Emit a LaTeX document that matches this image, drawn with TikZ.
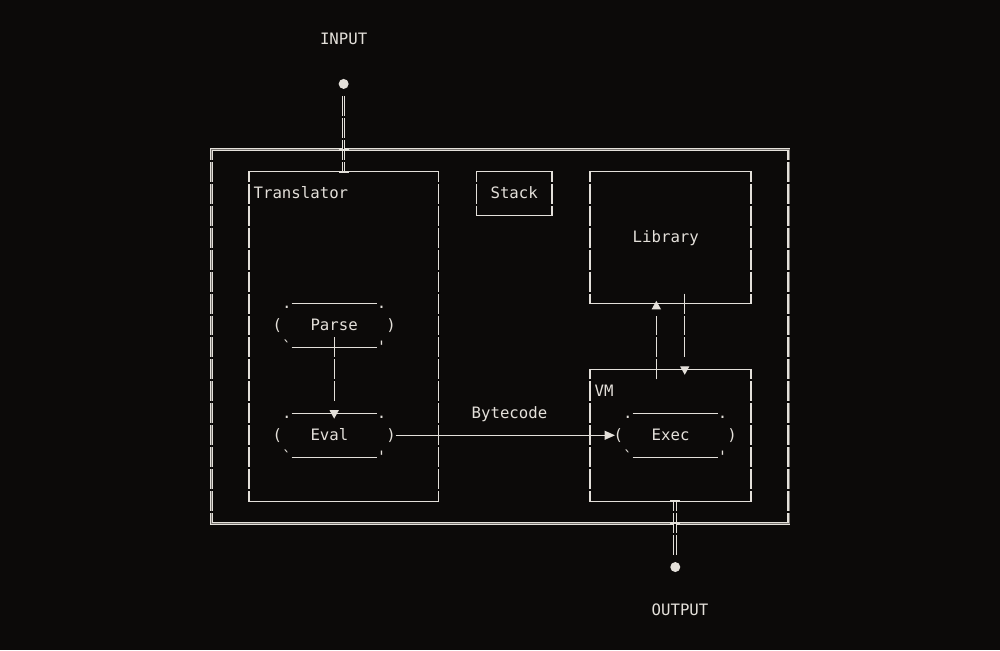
\documentclass[tikz,border=0pt]{standalone}
\usepackage{fontspec}
\setmonofont{DejaVu Sans Mono}
\usetikzlibrary{arrows.meta}
\definecolor{bg}{RGB}{12,10,9}
\definecolor{fg}{RGB}{228,224,218}
\definecolor{dim}{RGB}{120,116,112}
\tikzset{
  txt/.style={font=\ttfamily\fontsize{15.7}{18}\selectfont, text=fg, inner sep=0pt, outer sep=0pt, text height=10pt, text depth=0pt},
  frame/.style={inner sep=0pt, outer sep=0pt},
  boxsize/.style 2 args={minimum width=#1*9.475pt, minimum height=#2*21.96pt},
  sl/.style={draw=fg, line width=1.3pt},
  dl/.style={draw=fg, line width=1.2pt, double=dim, double distance=0.6pt},
  dblv/.style={draw=fg, line width=1pt, double=bg, double distance=1.6pt},
  rowdash/.style={dash pattern=on 19.96pt off 2pt},
  threedash/.style={dash pattern=on 19.96pt off 2pt on 19.96pt off 2pt on 19.96pt off 60pt},
  tri/.style={-{Triangle[width=9pt,length=8.5pt]}},
  dot/.style={circle, fill=fg, minimum size=10pt, inner sep=0pt, outer sep=0pt},
}
\newcommand\asciibox[2][sl]{%
  \draw[#1,line join=miter] ([yshift=-9.98pt]#2.north west) -- (#2.north west) -- (#2.north east) -- ([yshift=-9.98pt]#2.north east);
  \draw[#1,line join=miter] ([yshift=9.98pt]#2.south west) -- (#2.south west) -- (#2.south east) -- ([yshift=9.98pt]#2.south east);
  \draw[#1,rowdash] ([yshift=-11.98pt]#2.north west) -- ([yshift=11.98pt]#2.south west);
  \draw[#1,rowdash] ([yshift=-11.98pt]#2.north east) -- ([yshift=11.98pt]#2.south east);
}
\newcommand\capsule[1]{%
  \node[txt] (#1-lp) at (#1.west) {(};
  \node[txt] (#1-rp) at (#1.east) {)};
  \node[txt] (#1-tl) at ([xshift=9.475pt]#1.north west) {.};
  \node[txt] (#1-tr) at ([xshift=-9.475pt]#1.north east) {.};
  \node[txt] (#1-bl) at ([xshift=9.475pt]#1.south west) {`};
  \node[txt] (#1-br) at ([xshift=-9.475pt]#1.south east) {'};
  \draw[sl] ([xshift=14.2pt]#1.north west) -- ([xshift=-14.2pt]#1.north east);
  \draw[sl] ([xshift=14.2pt]#1.south west) -- ([xshift=-14.2pt]#1.south east);
}
\begin{document}
\begin{tikzpicture}[x=9.475pt,y=-21.96pt]
\fill[bg] (-22.2691,-1.8215) rectangle (83.2718,27.7778);
\useasboundingbox (-22.2691,-1.8215) rectangle (83.2718,27.7778);

% frames
\node[frame, boxsize={61}{17}] (outer) at (30.5,13.5) {};
\node[frame, boxsize={20}{15}] (trans) at (14,13.5) {};
\node[frame, txt, boxsize={8}{2}] (stack) at (32,7) {Stack};
\node[frame, txt, boxsize={17}{6}] (lib) at (48.5,9) {Library\hphantom{a}};
\node[frame, boxsize={17}{6}] (vm) at (48.5,18) {};

\asciibox[dl]{outer}
\asciibox{trans}
\asciibox{stack}
\asciibox{lib}
\asciibox{vm}

% labels
\node[txt, anchor=west] (translabel) at (4.5,7) {Translator};
\node[txt, anchor=west] (vmlabel) at (40.5,16) {VM};
\node[txt] (bytecode) at (31.5,17) {Bytecode};
\node[txt] (input) at (14,0) {INPUT};
\node[txt] (output) at (49.5,26) {OUTPUT};

% capsules
\node[frame, txt, boxsize={12}{2}] (parse) at (13,13) {Parse};
\node[frame, txt, boxsize={12}{2}] (eval) at (13,18) {Eval\hphantom{a}};
\node[frame, txt, boxsize={12}{2}] (exec) at (49,18) {Exec\hphantom{a}};
\capsule{parse}
\capsule{eval}
\capsule{exec}

% connectors
\draw[sl, threedash, tri, shorten <=-10pt, shorten >=-5.4pt] (parse.south) -- (eval.north);
\draw[sl, -{Triangle[width=9pt,length=10.5pt]}, shorten <=4.7pt, shorten >=3.4pt] (eval.east) -- (exec.west);
\draw[sl, threedash, tri, shorten <=-9.98pt, shorten >=-2.75pt] ([xshift=-14.21pt]vm.north) -- ([xshift=-14.21pt]lib.south);
\draw[sl, threedash, tri, shorten <=-9.98pt, shorten >=-5.4pt] ([xshift=14.21pt]lib.south) -- ([xshift=14.21pt]vm.north);

% input / output
\node[dot] (indot) at (14,2) {};
\node[dot] (outdot) at (49,24) {};
\draw[dblv, rowdash, shorten <=7pt] (indot) -- (trans.north);
\draw[sl, line width=2.2pt] ([xshift=-5pt]trans.north |- outer.north) -- ([xshift=5pt]trans.north |- outer.north);
\draw[sl, line width=2.2pt] ([xshift=-5pt]trans.north) -- ([xshift=5pt]trans.north);
\draw[dblv, rowdash, dash phase=9.98pt, shorten >=7pt] ([xshift=4.7375pt]vm.south) -- (outdot);
\draw[sl, line width=2.2pt] ([xshift=-0.26pt]vm.south) -- ([xshift=9.74pt]vm.south);
\draw[sl, line width=2.2pt] ([xshift=-0.26pt]vm.south |- outer.south) -- ([xshift=9.74pt]vm.south |- outer.south);
\end{tikzpicture}
\end{document}
